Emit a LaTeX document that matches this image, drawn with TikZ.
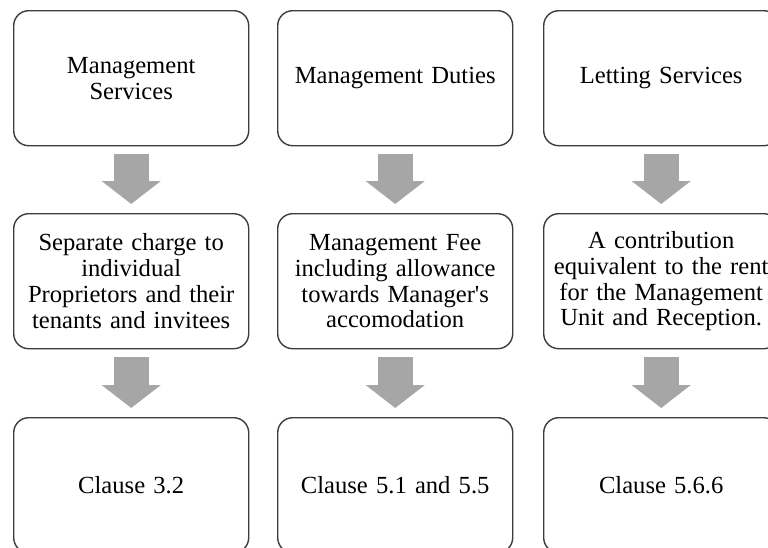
\documentclass[tikz,border=0pt]{standalone}
\usepackage{fontspec}
\setmainfont{Liberation Serif}[Ligatures=TeXOff]
\usetikzlibrary{arrows.meta,calc}
\definecolor{boxline}{HTML}{3C3C3C}
\definecolor{flowgray}{HTML}{A6A6A6}
\begin{document}
\begin{tikzpicture}[x=1pt,y=-1pt,
  card/.style={draw=boxline, line width=1.4pt, rounded corners=15pt,
    minimum width=235pt, minimum height=135pt, inner sep=0pt,
    align=center, text width=225pt,
    font=\fontsize{24.6pt}{25.8pt}\selectfont, anchor=north west},
  flow/.style={draw=flowgray, line width=35pt,
    -{Triangle[width=58pt,length=23pt]}, shorten >=0pt}]
\useasboundingbox (0,0) rectangle (768,547);
\clip (0,0) rectangle (768,547);

% top row: service categories
\node[card] (s1) at (13,10)  {Management\\Services};
\node[card] (s2) at (277,10) {Management Duties};
\node[card] (s3) at (543,10) {Letting Services};

% middle row: how each is charged
\node[card] (c1) at (13,213)  {Separate charge to\\individual\\Proprietors and their\\tenants and invitees};
\node[card] (c2) at (277,213) {Management Fee\\including allowance\\towards Manager's\\accomodation};
\node[card] (c3) at (543,213) {A contribution\\equivalent to the rent\\for the Management\\Unit and Reception.};

% bottom row: governing clauses
\node[card] (k1) at (13,417)  {Clause 3.2};
\node[card] (k2) at (277,417) {Clause 5.1 and 5.5};
\node[card] (k3) at (543,417) {Clause 5.6.6};

% gray block arrows between rows
\foreach \a/\b in {s1/c1,s2/c2,s3/c3,c1/k1,c2/k2,c3/k3}{
  \draw[flow] ($(\a.south)+(0,8)$) -- ($(\b.north)+(0,-9)$);
}
\end{tikzpicture}
\end{document}
